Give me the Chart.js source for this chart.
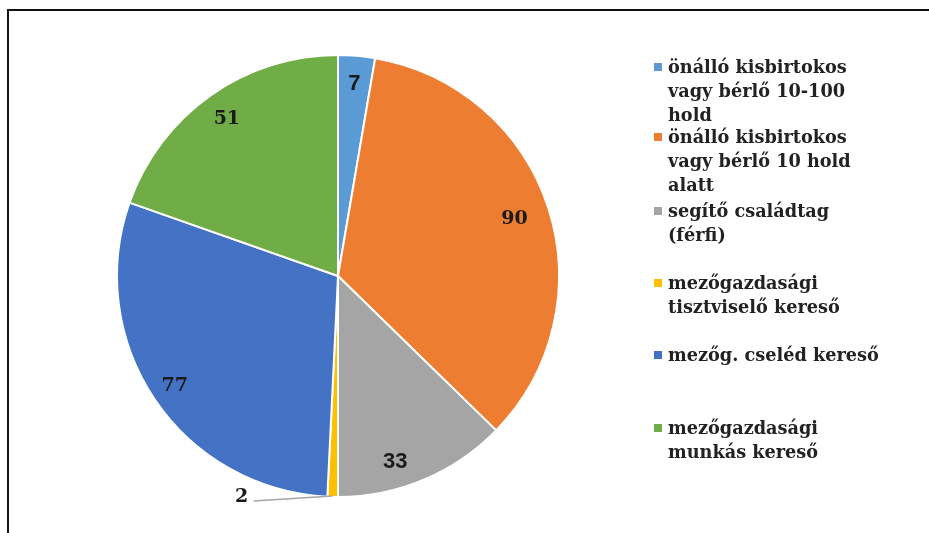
<!DOCTYPE html>
<html>
<head>
<meta charset="utf-8">
<script src="https://cdn.jsdelivr.net/npm/chart.js@4/dist/chart.umd.min.js"></script>
<style>
  html, body { margin: 0; padding: 0; background: #fff; }
  #wrap { position: relative; width: 929px; height: 533px; overflow: hidden; background: #fff; }
  #frame { position: absolute; left: 7px; top: 9px; right: -5px; bottom: -5px; border-left: 2px solid #111; border-top: 2px solid #111; }
  #c { position: absolute; left: 0; top: 0; }
  .lg-text { position: absolute; left: 668px; font-family: "DejaVu Serif", serif; font-weight: bold; font-size: 17.7px; line-height: 24px; color: #222; white-space: nowrap; }
  .lg-box { position: absolute; left: 654px; width: 8px; height: 8px; }
</style>
</head>
<body>
<div id="wrap">
  <div id="frame"></div>
  <canvas id="c" width="929" height="533"></canvas>
</div>
<script>
// ---- data ----
const categories = [
  ["önálló kisbirtokos", "vagy bérlő 10-100", "hold"],
  ["önálló kisbirtokos", "vagy bérlő 10 hold", "alatt"],
  ["segítő családtag", "(férfi)"],
  ["mezőgazdasági", "tisztviselő kereső"],
  ["mezőg. cseléd kereső"],
  ["mezőgazdasági", "munkás kereső"]
];
const values = [7, 90, 33, 2, 77, 51];
const colors = ["#5B9BD5", "#ED7D31", "#A5A5A5", "#FFC000", "#4472C4", "#70AD47"];

// ---- layout (legend rows, first-line centre y) ----
const legendRowY = [67, 137, 211, 283, 355, 428];

const labelPlugin = {
  id: 'valueLabels',
  afterDatasetsDraw(chart) {
    const ctx = chart.ctx;
    const meta = chart.getDatasetMeta(0);
    const ds = chart.data.datasets[0];
    const total = ds.data.reduce((a, b) => a + b, 0);
    meta.data.forEach((arc, i) => {
      const p = arc.getProps(['x', 'y', 'startAngle', 'endAngle', 'outerRadius'], true);
      const mid = (p.startAngle + p.endAngle) / 2;
      const v = ds.data[i];
      ctx.save();
      ctx.fillStyle = '#1a1a1a';
      ctx.textAlign = 'center';
      ctx.textBaseline = 'middle';
      const sans = (i === 0 || i === 2);
      ctx.font = sans ? 'bold 22px "Liberation Sans", Arial, sans-serif' : 'bold 19px "DejaVu Serif", serif';
      if (v / total < 0.02) {
        const ex = p.x + Math.cos(mid) * p.outerRadius;
        const ey = p.y + Math.sin(mid) * p.outerRadius;
        ctx.strokeStyle = '#a6a6a6';
        ctx.lineWidth = 1.5;
        ctx.beginPath();
        ctx.moveTo(ex, ey - 1);
        ctx.lineTo(ex - 79, ey + 4);
        ctx.stroke();
        ctx.fillText(String(v), ex - 91, ey);
      } else {
        let f = 0.87, a = mid;
        if (i === 1) f = 0.84;
        if (i === 2) { f = 0.88; a = mid + 0.1; }
        if (i === 4) f = 0.89;
        ctx.fillText(String(v), p.x + Math.cos(a) * p.outerRadius * f, p.y + Math.sin(a) * p.outerRadius * f);
      }
      ctx.restore();
    });
  }
};

const chart = new Chart(document.getElementById('c'), {
  type: 'pie',
  data: {
    labels: categories,
    datasets: [{
      data: values,
      backgroundColor: colors,
      borderColor: '#ffffff',
      borderWidth: 2
    }]
  },
  options: {
    responsive: false,
    animation: false,
    layout: { padding: { left: 116, top: 54, right: 369, bottom: 35 } },
    plugins: {
      legend: { display: false },
      tooltip: { enabled: false }
    }
  },
  plugins: [labelPlugin]
});

// HTML legend built from the chart's labels and colours
const wrap = document.getElementById('wrap');
chart.data.labels.forEach((lines, i) => {
  const box = document.createElement('div');
  box.className = 'lg-box';
  box.style.top = (legendRowY[i] - 4) + 'px';
  box.style.background = chart.data.datasets[0].backgroundColor[i];
  wrap.appendChild(box);
  const t = document.createElement('div');
  t.className = 'lg-text';
  t.style.top = (legendRowY[i] - 12) + 'px';
  t.innerHTML = lines.map(s => s.replace(/&/g, '&amp;').replace(/</g, '&lt;')).join('<br>');
  wrap.appendChild(t);
});
</script>
</body>
</html>
